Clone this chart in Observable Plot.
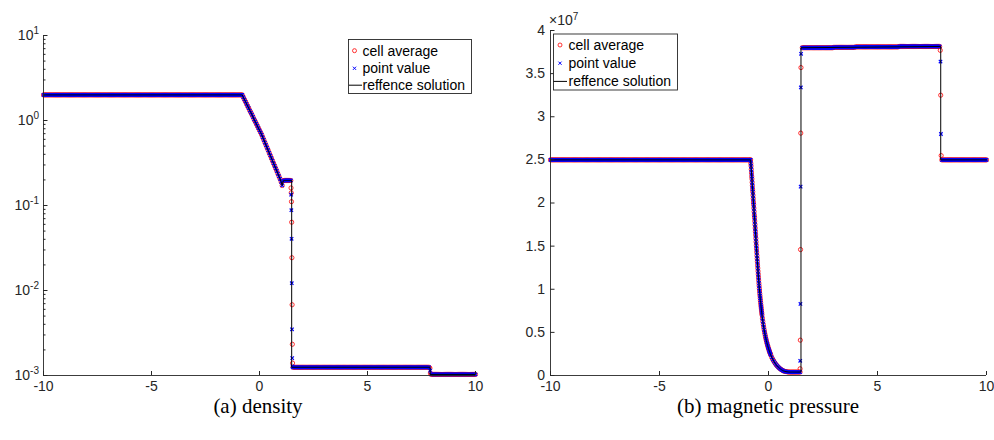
<!DOCTYPE html>
<html><head><meta charset="utf-8">
<script src="https://cdn.jsdelivr.net/npm/d3@7"></script>
<script src="https://cdn.jsdelivr.net/npm/@observablehq/plot@0.6"></script>
<style>
body{margin:0;background:#fff;}
#wrap{position:relative;width:994px;height:440px;background:#fff;font-family:"Liberation Sans",Arial,sans-serif;}
.panel{position:absolute;top:0;}
.cap{position:absolute;top:395.5px;width:300px;line-height:21px;font-family:"Liberation Serif",serif;font-size:21px;color:#000;text-align:center;}
</style></head><body><div id="wrap"></div>
<script>
// ---------- shared mesh samples (cell centres on the plateaus) ----------
const gridLeft = [
-10,-9.95,-9.9,-9.85,-9.8,-9.75,-9.7,-9.65,-9.6,-9.55,-9.5,-9.45,-9.4,-9.35,-9.3,-9.25,-9.2,-9.15,-9.1,-9.05,
-9,-8.95,-8.9,-8.85,-8.8,-8.75,-8.7,-8.65,-8.6,-8.55,-8.5,-8.45,-8.4,-8.35,-8.3,-8.25,-8.2,-8.15,-8.1,-8.05,
-8,-7.95,-7.9,-7.85,-7.8,-7.75,-7.7,-7.65,-7.6,-7.55,-7.5,-7.45,-7.4,-7.35,-7.3,-7.25,-7.2,-7.15,-7.1,-7.05,
-7,-6.95,-6.9,-6.85,-6.8,-6.75,-6.7,-6.65,-6.6,-6.55,-6.5,-6.45,-6.4,-6.35,-6.3,-6.25,-6.2,-6.15,-6.1,-6.05,
-6,-5.95,-5.9,-5.85,-5.8,-5.75,-5.7,-5.65,-5.6,-5.55,-5.5,-5.45,-5.4,-5.35,-5.3,-5.25,-5.2,-5.15,-5.1,-5.05,
-5,-4.95,-4.9,-4.85,-4.8,-4.75,-4.7,-4.65,-4.6,-4.55,-4.5,-4.45,-4.4,-4.35,-4.3,-4.25,-4.2,-4.15,-4.1,-4.05,
-4,-3.95,-3.9,-3.85,-3.8,-3.75,-3.7,-3.65,-3.6,-3.55,-3.5,-3.45,-3.4,-3.35,-3.3,-3.25,-3.2,-3.15,-3.1,-3.05,
-3,-2.95,-2.9,-2.85,-2.8,-2.75,-2.7,-2.65,-2.6,-2.55,-2.5,-2.45,-2.4,-2.35,-2.3,-2.25,-2.2,-2.15,-2.1,-2.05,
-2,-1.95,-1.9,-1.85,-1.8,-1.75,-1.7,-1.65,-1.6,-1.55,-1.5,-1.45,-1.4,-1.35,-1.3,-1.25,-1.2,-1.15,-1.1,-1.05,
-1,-0.95,-0.9,-0.85];
const gridMid = [
1.55,1.6,1.65,1.7,1.75,1.8,1.85,1.9,1.95,
2,2.05,2.1,2.15,2.2,2.25,2.3,2.35,2.4,2.45,2.5,2.55,2.6,2.65,2.7,2.75,2.8,2.85,2.9,2.95,
3,3.05,3.1,3.15,3.2,3.25,3.3,3.35,3.4,3.45,3.5,3.55,3.6,3.65,3.7,3.75,3.8,3.85,3.9,3.95,
4,4.05,4.1,4.15,4.2,4.25,4.3,4.35,4.4,4.45,4.5,4.55,4.6,4.65,4.7,4.75,4.8,4.85,4.9,4.95,
5,5.05,5.1,5.15,5.2,5.25,5.3,5.35,5.4,5.45,5.5,5.55,5.6,5.65,5.7,5.75,5.8,5.85,5.9,5.95,
6,6.05,6.1,6.15,6.2,6.25,6.3,6.35,6.4,6.45,6.5,6.55,6.6,6.65,6.7,6.75,6.8,6.85,6.9,6.95,
7,7.05,7.1,7.15,7.2,7.25,7.3,7.35,7.4,7.45,7.5,7.55,7.6,7.65,7.7,7.75,7.8,7.85];
const gridRight = [
7.95,
8,8.05,8.1,8.15,8.2,8.25,8.3,8.35,8.4,8.45,8.5,8.55,8.6,8.65,8.7,8.75,8.8,8.85,8.9,8.95,
9,9.05,9.1,9.15,9.2,9.25,9.3,9.35,9.4,9.45,9.5,9.55,9.6,9.65,9.7,9.75,9.8,9.85,9.9,9.95,
10];

// ---------- (a) density ----------
const densLeft = [
2,2,2,2,2,2,2,2,2,2,2,2,2,2,2,2,2,2,2,2,
2,2,2,2,2,2,2,2,2,2,2,2,2,2,2,2,2,2,2,2,
2,2,2,2,2,2,2,2,2,2,2,2,2,2,2,2,2,2,2,2,
2,2,2,2,2,2,2,2,2,2,2,2,2,2,2,2,2,2,2,2,
2,2,2,2,2,2,2,2,2,2,2,2,2,2,2,2,2,2,2,2,
2,2,2,2,2,2,2,2,2,2,2,2,2,2,2,2,2,2,2,2,
2,2,2,2,2,2,2,2,2,2,2,2,2,2,2,2,2,2,2,2,
2,2,2,2,2,2,2,2,2,2,2,2,2,2,2,2,2,2,2,2,
2,2,2,2,2,2,2,2,2,2,2,2,2,2,2,2,2,2,2,2,
2,2,2,2];
const densRareX = [
-0.8,-0.75,-0.7,-0.65,-0.6,-0.55,-0.5,-0.45,-0.4,-0.35,
-0.3,-0.25,-0.2,-0.15,-0.1,-0.05,0,0.05,0.1,0.15,
0.2,0.25,0.3,0.35,0.4,0.45,0.5,0.55,0.6,0.65,
0.7,0.75,0.8,0.85,0.9,0.95,1,1.05,1.1,1.15,
1.2,1.25,1.3,1.35,1.4,1.45];
const densRare = [
2.0,1.88,1.77,1.67,1.57,1.48,1.40,1.31,1.24,1.17,
1.10,1.03,0.975,0.918,0.865,0.815,0.767,0.723,0.681,0.634,
0.592,0.551,0.514,0.479,0.447,0.416,0.388,0.362,0.337,0.314,
0.293,0.273,0.255,0.237,0.221,0.206,0.19,0.172,0.195,0.197,
0.197,0.197,0.197,0.197,0.197,0.197];
const densShockAvgX = [1.46,1.47,1.48,1.49,1.5,1.51,1.52,1.53];
const densShockAvg  = [0.161,0.141,0.111,0.0636,0.0243,0.0068,0.00233,0.0014];
const densShockPtX  = [1.465,1.475,1.485,1.495,1.505,1.515,1.525];
const densShockPt   = [0.134,0.088,0.0406,0.0122,0.0035,0.0016,0.00128];
const densMid = [
0.00125,0.00125,0.00125,0.00125,0.00125,0.00125,0.00125,0.00125,0.00125,
0.00125,0.00125,0.00125,0.00125,0.00125,0.00125,0.00125,0.00125,0.00125,0.00125,0.00125,0.00125,0.00125,0.00125,0.00125,0.00125,0.00125,0.00125,0.00125,0.00125,
0.00125,0.00125,0.00125,0.00125,0.00125,0.00125,0.00125,0.00125,0.00125,0.00125,0.00125,0.00125,0.00125,0.00125,0.00125,0.00125,0.00125,0.00125,0.00125,0.00125,
0.00125,0.00125,0.00125,0.00125,0.00125,0.00125,0.00125,0.00125,0.00125,0.00125,0.00125,0.00125,0.00125,0.00125,0.00125,0.00125,0.00125,0.00125,0.00125,0.00125,
0.00125,0.00125,0.00125,0.00125,0.00125,0.00125,0.00125,0.00125,0.00125,0.00125,0.00125,0.00125,0.00125,0.00125,0.00125,0.00125,0.00125,0.00125,0.00125,0.00125,
0.00125,0.00125,0.00125,0.00125,0.00125,0.00125,0.00125,0.00125,0.00125,0.00125,0.00125,0.00125,0.00125,0.00125,0.00125,0.00125,0.00125,0.00125,0.00125,0.00125,
0.00125,0.00125,0.00125,0.00125,0.00125,0.00125,0.00125,0.00125,0.00125,0.00125,0.00125,0.00125,0.00125,0.00125,0.00125,0.00125,0.00125,0.00125];
const densJumpAvgX = [7.89,7.91];
const densJumpAvg  = [0.00122,0.00107];
const densJumpPtX  = [7.9];
const densJumpPt   = [0.00114];
const densRight = [
0.00103,
0.00103,0.00103,0.00103,0.00103,0.00103,0.00103,0.00103,0.00103,0.00103,0.00103,0.00103,0.00103,0.00103,0.00103,0.00103,0.00103,0.00103,0.00103,0.00103,0.00103,
0.00103,0.00103,0.00103,0.00103,0.00103,0.00103,0.00103,0.00103,0.00103,0.00103,0.00103,0.00103,0.00103,0.00103,0.00103,0.00103,0.00103,0.00103,0.00103,0.00103,
0.00103];
const densRefHeadX = [-10], densRefHeadY = [2];
const densRefTailX = [1.49,1.49,7.9,7.9,10];
const densRefTailY = [0.197,0.00125,0.00125,0.00103,0.00103];

// ---------- (b) magnetic pressure (units of 1e7) ----------
const presLeft = [
2.5,2.5,2.5,2.5,2.5,2.5,2.5,2.5,2.5,2.5,2.5,2.5,2.5,2.5,2.5,2.5,2.5,2.5,2.5,2.5,
2.5,2.5,2.5,2.5,2.5,2.5,2.5,2.5,2.5,2.5,2.5,2.5,2.5,2.5,2.5,2.5,2.5,2.5,2.5,2.5,
2.5,2.5,2.5,2.5,2.5,2.5,2.5,2.5,2.5,2.5,2.5,2.5,2.5,2.5,2.5,2.5,2.5,2.5,2.5,2.5,
2.5,2.5,2.5,2.5,2.5,2.5,2.5,2.5,2.5,2.5,2.5,2.5,2.5,2.5,2.5,2.5,2.5,2.5,2.5,2.5,
2.5,2.5,2.5,2.5,2.5,2.5,2.5,2.5,2.5,2.5,2.5,2.5,2.5,2.5,2.5,2.5,2.5,2.5,2.5,2.5,
2.5,2.5,2.5,2.5,2.5,2.5,2.5,2.5,2.5,2.5,2.5,2.5,2.5,2.5,2.5,2.5,2.5,2.5,2.5,2.5,
2.5,2.5,2.5,2.5,2.5,2.5,2.5,2.5,2.5,2.5,2.5,2.5,2.5,2.5,2.5,2.5,2.5,2.5,2.5,2.5,
2.5,2.5,2.5,2.5,2.5,2.5,2.5,2.5,2.5,2.5,2.5,2.5,2.5,2.5,2.5,2.5,2.5,2.5,2.5,2.5,
2.5,2.5,2.5,2.5,2.5,2.5,2.5,2.5,2.5,2.5,2.5,2.5,2.5,2.5,2.5,2.5,2.5,2.5,2.5,2.5,
2.5,2.5,2.5,2.5];
const presRareX = [
-0.82,-0.81,-0.8,-0.79,-0.78,-0.77,-0.76,-0.75,-0.74,-0.73,
-0.72,-0.71,-0.7,-0.69,-0.68,-0.67,-0.66,-0.65,-0.64,-0.63,
-0.62,-0.61,-0.6,-0.59,-0.58,-0.57,-0.56,-0.55,-0.54,-0.53,
-0.52,-0.51,-0.5,-0.49,-0.48,-0.47,-0.46,-0.45,-0.44,-0.43,
-0.42,-0.41,-0.4,-0.39,-0.38,-0.37,-0.36,-0.35,-0.34,-0.33,
-0.32,-0.31,-0.3,
-0.28,-0.26,-0.24,-0.22,-0.2,-0.18,-0.16,-0.14,-0.12,-0.1,
-0.08,-0.06,-0.04,-0.02,0,0.02,0.04,0.06,0.08,0.1,
0.15,0.2,0.25,0.3,0.35,0.4,0.45,0.5,0.55,0.6,
0.65,0.7,0.75,0.8,0.85,0.9,0.95,1,1.05,1.1,
1.15,1.2,1.25,1.3,1.35,1.4,1.45];
const presRare = [
2.50,2.46,2.43,2.39,2.35,2.31,2.28,2.24,2.20,2.16,
2.13,2.09,2.05,2.01,1.98,1.94,1.90,1.86,1.83,1.79,
1.75,1.71,1.67,1.63,1.59,1.55,1.51,1.47,1.43,1.39,
1.355,1.32,1.28,1.245,1.21,1.175,1.14,1.105,1.07,1.04,
1.01,0.98,0.95,0.923,0.896,0.870,0.845,0.820,0.797,0.773,
0.750,0.727,0.705,
0.665,0.628,0.593,0.560,0.530,0.502,0.476,0.451,0.428,0.406,
0.385,0.366,0.347,0.330,0.313,0.297,0.282,0.267,0.253,0.240,
0.210,0.185,0.163,0.143,0.126,0.111,0.097,0.085,0.075,0.066,
0.058,0.052,0.048,0.045,0.043,0.041,0.040,0.040,0.040,0.040,
0.040,0.040,0.040,0.040,0.040,0.040,0.040];
const presShockAvgX = [1.45,1.46,1.47,1.48,1.49];
const presShockAvg  = [0.078,0.41,1.46,2.81,3.57];
const presShockPtX  = [1.455,1.465,1.475,1.485,1.495];
const presShockPt   = [0.17,0.83,2.19,3.34,3.73];
const presMid = [
3.80,3.80,3.80,3.80,3.80,3.80,3.80,3.80,3.80,
3.80,3.80,3.80,3.80,3.80,3.80,3.80,3.80,3.80,3.80,3.80,3.80,3.80,3.80,3.80,3.80,3.80,3.80,3.80,3.80,
3.805,3.805,3.805,3.805,3.805,3.805,3.805,3.805,3.805,3.805,3.805,3.805,3.805,3.805,3.805,3.805,3.805,3.805,3.805,3.805,
3.81,3.81,3.81,3.81,3.81,3.81,3.81,3.81,3.81,3.81,3.81,3.81,3.81,3.81,3.81,3.81,3.81,3.81,3.81,3.81,
3.81,3.81,3.81,3.81,3.81,3.81,3.81,3.81,3.81,3.81,3.81,3.81,3.81,3.81,3.81,3.81,3.81,3.81,3.81,3.81,
3.815,3.815,3.815,3.815,3.815,3.815,3.815,3.815,3.815,3.815,3.815,3.815,3.815,3.815,3.815,3.815,3.815,3.815,3.815,3.815,
3.815,3.815,3.815,3.815,3.815,3.815,3.815,3.815,3.815,3.815,3.815,3.815,3.815,3.815,3.815,3.815,3.815,3.815];
const presJumpAvgX = [7.88,7.9,7.92];
const presJumpAvg  = [3.77,3.25,2.55];
const presJumpPtX  = [7.89,7.91];
const presJumpPt   = [3.64,2.80];
const presRight = [
2.5,
2.5,2.5,2.5,2.5,2.5,2.5,2.5,2.5,2.5,2.5,2.5,2.5,2.5,2.5,2.5,2.5,2.5,2.5,2.5,2.5,
2.5,2.5,2.5,2.5,2.5,2.5,2.5,2.5,2.5,2.5,2.5,2.5,2.5,2.5,2.5,2.5,2.5,2.5,2.5,2.5,
2.5];
const presRefHeadX = [-10], presRefHeadY = [2.5];
const presRefTailX = [1.49,1.49,7.9,7.9,10];
const presRefTailY = [0.04,3.80,3.815,2.5,2.5];

// ---------- ticks / labels ----------
const xTicks = [-10,-5,0,5,10];
const densMajorTicks = [1e-3,1e-2,1e-1,1,10];
const densMinorTicks = [
0.002,0.003,0.004,0.005,0.006,0.007,0.008,0.009,
0.02,0.03,0.04,0.05,0.06,0.07,0.08,0.09,
0.2,0.3,0.4,0.5,0.6,0.7,0.8,0.9,
2,3,4,5,6,7,8,9];
const presTicks = [0,0.5,1,1.5,2,2.5,3,3.5,4];
const presExponent = "7";
const legendLabels = ["cell average","point value","reffence solution"];
const captions = ["(a) density","(b) magnetic pressure"];

// ---------- helpers ----------
const zip = (xs, ys) => xs.map((x, i) => ({x, y: ys[i]}));
const RED = "#ff0000", BLUE = "#0000ff", AX = "#262626";
const FONT = "'Liberation Sans', Arial, sans-serif";

const densAvgPts = [...zip(gridLeft,densLeft), ...zip(densRareX,densRare), ...zip(densShockAvgX,densShockAvg),
  ...zip(gridMid,densMid), ...zip(densJumpAvgX,densJumpAvg), ...zip(gridRight,densRight)];
const densPtPts = [...zip(gridLeft,densLeft), ...zip(densRareX,densRare), ...zip(densShockPtX,densShockPt),
  ...zip(gridMid,densMid), ...zip(densJumpPtX,densJumpPt), ...zip(gridRight,densRight)];
const densRefPts = [...zip(densRefHeadX,densRefHeadY), ...zip(densRareX,densRare), ...zip(densRefTailX,densRefTailY)];

const presAvgPts = [...zip(gridLeft,presLeft), ...zip(presRareX,presRare), ...zip(presShockAvgX,presShockAvg),
  ...zip(gridMid,presMid), ...zip(presJumpAvgX,presJumpAvg), ...zip(gridRight,presRight)];
const presPtPts = [...zip(gridLeft,presLeft), ...zip(presRareX,presRare), ...zip(presShockPtX,presShockPt),
  ...zip(gridMid,presMid), ...zip(presJumpPtX,presJumpPt), ...zip(gridRight,presRight)];
const presRefPts = [...zip(presRefHeadX,presRefHeadY), ...zip(presRareX,presRare), ...zip(presRefTailX,presRefTailY)];

const style = {fontSize: "14px", fontFamily: FONT, color: AX, background: "white", overflow: "visible"};

function dataMarks(avg, pt, ref) {
  return [
    Plot.dot(avg, {x: "x", y: "y", r: 2.1, stroke: RED, strokeWidth: 0.8, fill: "none"}),
    Plot.dot(pt, {x: "x", y: "y", r: 1.7, symbol: "times", stroke: BLUE, strokeWidth: 1.2}),
    Plot.line(ref, {x: "x", y: "y", stroke: "#000", strokeWidth: 1})
  ];
}

const left = Plot.plot({
  width: 497, height: 395, marginLeft: 43, marginRight: 22, marginTop: 35, marginBottom: 20,
  x: {domain: [-10, 10]},
  y: {type: "log", domain: [1e-3, 10]},
  style,
  marks: [
    ...dataMarks(densAvgPts, densPtPts, densRefPts),
    Plot.ruleX([-10], {stroke: AX, strokeWidth: 0.9}),
    Plot.ruleY([1e-3], {stroke: AX, strokeWidth: 0.9}),
    Plot.axisX({ticks: xTicks, tickFormat: d => String(d), tickSize: 4, tickPadding: 2, label: null}),
    Plot.axisY({ticks: densMajorTicks, tickFormat: d => "10^" + Math.round(Math.log10(d)), tickSize: 4.5, tickPadding: 0, label: null}),
    Plot.axisY({ticks: densMinorTicks, tickFormat: () => "", tickSize: 2.5, label: null})
  ]
});

const right = Plot.plot({
  width: 497, height: 395, marginLeft: 53, marginRight: 8, marginTop: 30, marginBottom: 20,
  x: {domain: [-10, 10]},
  y: {domain: [0, 4]},
  style,
  marks: [
    ...dataMarks(presAvgPts, presPtPts, presRefPts),
    Plot.ruleX([-10], {stroke: AX, strokeWidth: 0.9}),
    Plot.ruleY([0], {stroke: AX, strokeWidth: 0.9}),
    Plot.axisX({ticks: xTicks, tickFormat: d => String(d), tickSize: 4, tickPadding: 2, label: null}),
    Plot.axisY({ticks: presTicks, tickFormat: d => String(d), tickSize: 4.5, tickPadding: 1, label: null})
  ]
});

function flipTicks(svg) {
  d3.select(svg).selectAll('g[aria-label="y-axis tick"] path, g[aria-label="x-axis tick"] path')
    .attr("d", function() {
      return this.getAttribute("d").replace(/L(-?[\d.]+),(-?[\d.]+)/, (m, a, b) => `L${-a},${-b}`);
    })
    .attr("stroke", AX);
}
flipTicks(left); flipTicks(right);

// superscript log tick labels
d3.select(left).selectAll('g[aria-label="y-axis tick label"] text').each(function() {
  const t = this.textContent;
  if (!t.startsWith("10^")) return;
  const e = t.slice(3);
  const s = d3.select(this);
  s.text("10");
  s.append("tspan").attr("dy", "-0.55em").attr("font-size", "10px").text(e);
});

// exponent label for panel b
{
  const t = d3.select(right).append("text").attr("x", 52).attr("y", 25).attr("text-anchor", "start")
    .attr("fill", AX).attr("font-size", 14).attr("font-family", FONT).text("\u00d710");
  t.append("tspan").attr("dy", "-0.55em").attr("font-size", "10px").text(presExponent);
}

function legend(svg, bx, by, bw, bh, rows, symX, lineX1, lineX2, textX) {
  const g = d3.select(svg).append("g").attr("text-anchor", "start");
  g.append("rect").attr("x", bx).attr("y", by).attr("width", bw).attr("height", bh)
    .attr("fill", "#fff").attr("stroke", AX).attr("stroke-width", 0.9);
  g.append("circle").attr("cx", symX).attr("cy", rows[0]).attr("r", 2).attr("fill", "none").attr("stroke", RED).attr("stroke-width", 0.8);
  g.append("path").attr("d", d3.symbol(d3.symbolTimes, Math.PI * 1.6 * 1.6)()).attr("transform", `translate(${symX},${rows[1]})`)
    .attr("fill", "none").attr("stroke", BLUE).attr("stroke-width", 1);
  g.append("line").attr("x1", lineX1).attr("x2", lineX2).attr("y1", rows[2]).attr("y2", rows[2]).attr("stroke", "#000").attr("stroke-width", 1);
  legendLabels.forEach((lab, i) => {
    g.append("text").attr("x", textX).attr("y", rows[i]).attr("dy", "0.35em").attr("fill", "#000").attr("text-anchor", "start")
      .attr("font-size", 14).attr("font-family", FONT).text(lab);
  });
}
legend(left, 348.5, 39.5, 123, 54, [50.7, 68.3, 85.2], 354.5, 349, 362, 362.5);
legend(right, 56.5, 34, 124, 56, [45, 63.2, 81.4], 63, 56.5, 70, 71.5);

const wrap = document.getElementById("wrap");
left.classList.add("panel"); left.style.left = "0px";
right.classList.add("panel"); right.style.left = "497px";
wrap.appendChild(left); wrap.appendChild(right);
[[258, captions[0]], [768, captions[1]]].forEach(([cx, txt]) => {
  const d = document.createElement("div");
  d.className = "cap"; d.style.left = (cx - 150) + "px"; d.textContent = txt;
  wrap.appendChild(d);
});
</script>
</body></html>
